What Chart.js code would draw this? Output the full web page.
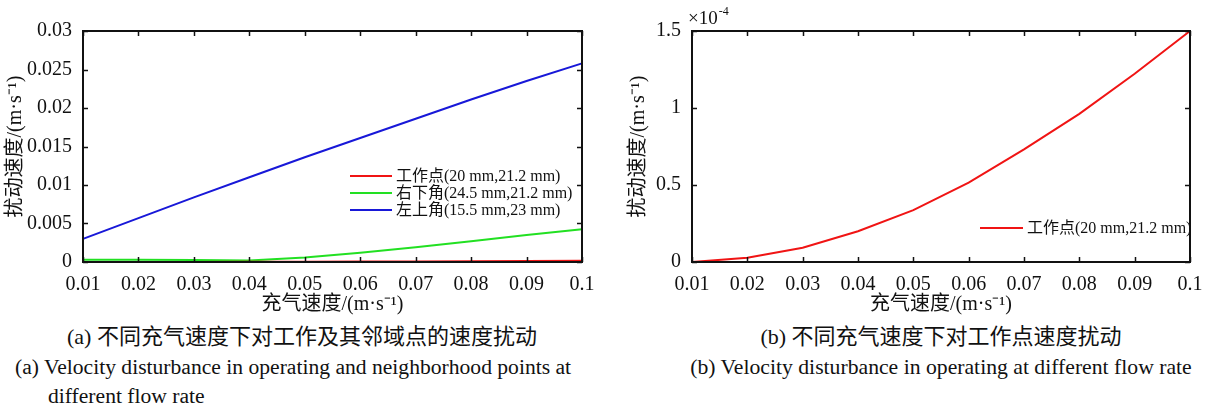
<!DOCTYPE html>
<html><head><meta charset="utf-8">
<script src="https://cdn.jsdelivr.net/npm/chart.js@4.4.1/dist/chart.umd.min.js"></script>
<style>
body{margin:0;background:#fff;width:1208px;height:408px;overflow:hidden;position:relative;font-family:'Liberation Serif','Noto Sans CJK SC',serif;color:#111}
#ca{position:absolute;left:0;top:0}
#cb{position:absolute;left:600px;top:0}
.cap{position:absolute;white-space:nowrap;line-height:1}
</style></head><body>
<canvas id="ca" width="600" height="320"></canvas>
<canvas id="cb" width="608" height="320"></canvas>
<div class="cap" style="left:0;width:604px;text-align:center;top:326px;font-size:22px">(a) 不同充气速度下对工作及其邻域点的速度扰动</div>
<div class="cap" style="left:15px;top:357px;font-size:21.6px">(a) Velocity disturbance in operating and neighborhood points at</div>
<div class="cap" style="left:48px;top:386px;font-size:21.6px">different flow rate</div>
<div class="cap" style="left:641px;width:600px;text-align:center;top:326px;font-size:22px">(b) 不同充气速度下对工作点速度扰动</div>
<div class="cap" style="left:641px;width:600px;text-align:center;top:357px;font-size:21.7px">(b) Velocity disturbance in operating at different flow rate</div>
<script>
// ---- data ----
const flowRate = [0.01, 0.02, 0.03, 0.04, 0.05, 0.06, 0.07, 0.08, 0.09, 0.1];
const xTickValues = [0.01, 0.02, 0.03, 0.04, 0.05, 0.06, 0.07, 0.08, 0.09, 0.1];
const xTickLabels = ['0.01','0.02','0.03','0.04','0.05','0.06','0.07','0.08','0.09','0.1'];
const seriesLabels = ['工作点(20 mm,21.2 mm)', '右下角(24.5 mm,21.2 mm)', '左上角(15.5 mm,23 mm)'];
// disturbance velocity, m/s
const workPoint  = [0, 0.0000028, 0.0000093, 0.00002, 0.0000337, 0.0000515, 0.0000731, 0.0000962, 0.0001222, 0.00015];
const lowerRight = [0.0003, 0.0003, 0.00025, 0.0002, 0.0006, 0.0012, 0.0019, 0.0027, 0.0035, 0.00425];
const upperLeft  = [0.0030, 0.0057, 0.0084, 0.0110, 0.0136, 0.0161, 0.0186, 0.0211, 0.0235, 0.0258];
const yTicksA  = [0, 0.005, 0.01, 0.015, 0.02, 0.025, 0.03];
const yLabelsA = ['0','0.005','0.01','0.015','0.02','0.025','0.03'];
const yTicksB  = [0, 0.00005, 0.0001, 0.00015];
const yLabelsB = ['0','0.5','1','1.5'];
const xTitle = '充气速度/(m·s⁻¹)';
const yTitle = '扰动速度/(m·s⁻¹)';

const FONT = "'Liberation Serif', 'Noto Sans CJK SC', serif";
const INK = '#111';
const COLORS = ['#f01414', '#22e022', '#1818d8'];
Chart.defaults.font.family = FONT;
Chart.defaults.color = INK;

const pts = arr => flowRate.map((x, i) => ({x, y: arr[i]}));

const framePlugin = {
  id: 'frame',
  afterDatasetsDraw(chart, args, opts) {
    const {ctx, chartArea: a, scales} = chart;
    ctx.save();
    ctx.strokeStyle = INK;
    ctx.lineWidth = 2;
    ctx.strokeRect(a.left, a.top, a.right - a.left, a.bottom - a.top);
    ctx.lineWidth = 1.5;
    const L = 5;
    ctx.beginPath();
    scales.x.ticks.forEach(t => {
      const px = Math.round(scales.x.getPixelForValue(t.value)) + 0.5;
      ctx.moveTo(px, a.bottom); ctx.lineTo(px, a.bottom - L);
      ctx.moveTo(px, a.top); ctx.lineTo(px, a.top + L);
    });
    scales.y.ticks.forEach(t => {
      const py = Math.round(scales.y.getPixelForValue(t.value)) + 0.5;
      ctx.moveTo(a.left, py); ctx.lineTo(a.left + L, py);
      ctx.moveTo(a.right, py); ctx.lineTo(a.right - L, py);
    });
    ctx.stroke();
    // legend
    const lg = opts.legend;
    ctx.font = '16px ' + FONT;
    ctx.textBaseline = 'middle';
    ctx.textAlign = 'left';
    chart.data.datasets.forEach((ds, i) => {
      const y = lg.y + i * lg.row;
      ctx.strokeStyle = ds.borderColor;
      ctx.lineWidth = 2;
      ctx.beginPath(); ctx.moveTo(lg.x, y); ctx.lineTo(lg.x + lg.len, y); ctx.stroke();
      ctx.fillStyle = INK;
      ctx.fillText(ds.label, lg.x + lg.len + 4, y + 1);
    });
    if (opts.exponent) {
      ctx.fillStyle = INK;
      ctx.font = '19px ' + FONT;
      ctx.fillText('×10', a.left - 4, 19);
      const w = ctx.measureText('×10').width;
      ctx.font = '12px ' + FONT;
      ctx.fillText('-4', a.left - 4 + w + 1, 12);
    }
    ctx.restore();
  }
};

function makeChart(id, datasets, yTicks, yLabels, yMax, yWidth, yTitlePad, legend, exponent) {
  return new Chart(document.getElementById(id), {
    type: 'line',
    data: {datasets},
    options: {
      responsive: false,
      animation: false,
      devicePixelRatio: 1,
      layout: {padding: {top: 31, right: 18, left: 0, bottom: 0}},
      plugins: {legend: {display: false}, tooltip: {enabled: false}, frame: {legend, exponent}},
      elements: {point: {radius: 0}, line: {tension: 0, borderWidth: 2}},
      scales: {
        x: {
          type: 'linear', min: 0.01, max: 0.1,
          afterBuildTicks: s => { s.ticks = xTickValues.map(v => ({value: v})); },
          afterFit: s => { s.height = 58; },
          ticks: {callback: (v, i) => xTickLabels[i], font: {family: FONT, size: 20}, color: INK, padding: 3, maxRotation: 0, autoSkip: false},
          grid: {display: false}, border: {display: false},
          title: {display: true, text: xTitle, font: {family: FONT, size: 20}, color: INK, padding: {top: 0, bottom: 3}}
        },
        y: {
          type: 'linear', min: 0, max: yMax,
          afterBuildTicks: s => { s.ticks = yTicks.map(v => ({value: v})); },
          afterFit: s => { s.width = yWidth; },
          ticks: {callback: (v, i) => yLabels[i], font: {family: FONT, size: 20}, color: INK, padding: 3, autoSkip: false},
          grid: {display: false}, border: {display: false},
          title: {display: true, text: yTitle, font: {family: FONT, size: 20}, color: INK, padding: {top: yTitlePad, bottom: 0}}
        }
      }
    },
    plugins: [framePlugin]
  });
}

makeChart('ca', [
  {label: seriesLabels[0], data: pts(workPoint), borderColor: COLORS[0], clip: false},
  {label: seriesLabels[1], data: pts(lowerRight), borderColor: COLORS[1], clip: false},
  {label: seriesLabels[2], data: pts(upperLeft), borderColor: COLORS[2], clip: false}
], yTicksA, yLabelsA, 0.03, 83, 4, {x: 350, y: 176, row: 17, len: 42}, false);

makeChart('cb', [
  {label: seriesLabels[0], data: pts(workPoint), borderColor: COLORS[0], clip: false}
], yTicksB, yLabelsB, 0.00015, 92, 27, {x: 380, y: 228, row: 17, len: 43}, true);
</script>
</body></html>
